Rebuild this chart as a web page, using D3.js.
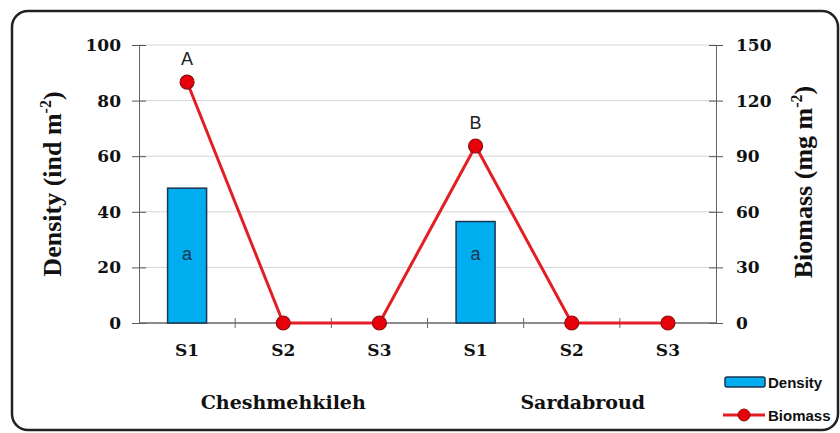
<!DOCTYPE html>
<html><head><meta charset="utf-8">
<script src="https://cdn.jsdelivr.net/npm/d3@7"></script>
<style>body{margin:0;background:#fff}svg{display:block}</style>
</head><body>
<svg id="c" width="840" height="433"></svg>
<script>
const categories = ["S1","S2","S3","S1","S2","S3"];
const groups = ["Cheshmehkileh","Sardabroud"];
const density = [48.5,null,null,36.5,null,null];
const densityLetters = ["a",null,null,"a",null,null];
const biomass = [130,0,0,95.5,0,0];
const biomassLetters = ["A",null,null,"B",null,null];
const leftTicks = [0,20,40,60,80,100];
const rightTicks = [0,30,60,90,120,150];

const svg = d3.select("#c");
const L = 139, R = 716, T = 45, B = 323;
const idx = categories.map((d,i)=>i);
const x = d3.scaleBand().domain(idx).range([L,R]);
const yL = d3.scaleLinear().domain([0,100]).range([B,T]);
const yR = d3.scaleLinear().domain([0,150]).range([B,T]);

// frame
svg.append("rect").attr("x",12).attr("y",11).attr("width",826).attr("height",419)
  .attr("rx",16).attr("fill","none").attr("stroke","#222").attr("stroke-width",2.5);

// grid
svg.append("g").selectAll("line").data(leftTicks.slice(1)).join("line")
  .attr("x1",L).attr("x2",R).attr("y1",d=>yL(d)).attr("y2",d=>yL(d))
  .attr("stroke","#d4d4d4").attr("stroke-width",1);

const serif = "'DejaVu Serif',serif";
const tserif = "'Liberation Serif','Times New Roman',serif";
// left axis
const la = svg.append("g").attr("transform",`translate(${L},0)`)
  .call(d3.axisLeft(yL).tickValues(leftTicks).tickSize(7).tickSizeOuter(0).tickPadding(11));
la.selectAll(".tick line").attr("x2",-7).attr("x1",7).attr("stroke","#555");
la.select(".domain").attr("stroke","#666");
la.selectAll("text").attr("font-family",serif).attr("font-weight","bold").attr("font-size",17).attr("fill","#111");

// right axis
const ra = svg.append("g").attr("transform",`translate(${R},0)`)
  .call(d3.axisRight(yR).tickValues(rightTicks).tickSize(7).tickSizeOuter(0).tickPadding(13));
ra.selectAll(".tick line").attr("x1",-7).attr("stroke","#555");
ra.select(".domain").attr("stroke","#666");
ra.selectAll("text").attr("font-family",serif).attr("font-weight","bold").attr("font-size",17).attr("fill","#111");

// x axis
svg.append("line").attr("x1",L).attr("x2",R).attr("y1",B).attr("y2",B).attr("stroke","#666").attr("stroke-width",1.5);
svg.append("g").selectAll("line").data(idx.slice(1)).join("line")
  .attr("x1",d=>x(d)).attr("x2",d=>x(d)).attr("y1",B-5).attr("y2",B+5).attr("stroke","#666");
svg.append("g").selectAll("text").data(categories).join("text")
  .attr("x",(d,i)=>x(i)+x.bandwidth()/2).attr("y",B+33).attr("text-anchor","middle")
  .attr("font-family",serif).attr("font-weight","bold").attr("font-size",17).attr("fill","#111").text(d=>d);
svg.append("g").selectAll("text").data(groups).join("text")
  .attr("x",(d,i)=>x(i*3+1)+x.bandwidth()/2).attr("dx",(d,i)=>i*11).attr("y",409).attr("text-anchor","middle")
  .attr("font-family",serif).attr("font-weight","bold").attr("font-size",19).attr("fill","#111").text(d=>d);

// bars
const bw = 39;
svg.append("g").selectAll("rect").data(density.map((v,i)=>({v,i})).filter(d=>d.v!=null)).join("rect")
  .attr("x",d=>x(d.i)+x.bandwidth()/2-bw/2).attr("width",bw)
  .attr("y",d=>yL(d.v)).attr("height",d=>B-yL(d.v))
  .attr("fill","#00aeef").attr("stroke","#1b3550").attr("stroke-width",1.5);
svg.append("g").selectAll("text").data(densityLetters.map((v,i)=>({v,i})).filter(d=>d.v)).join("text")
  .attr("x",d=>x(d.i)+x.bandwidth()/2).attr("y",yL(25)+6).attr("text-anchor","middle")
  .attr("font-family","'Liberation Sans',Arial,sans-serif").attr("font-size",18).attr("fill","#1b3550").text(d=>d.v);

// line
const line = d3.line().x((d,i)=>x(i)+x.bandwidth()/2).y(d=>yR(d));
svg.append("path").datum(biomass).attr("d",line).attr("fill","none").attr("stroke","#e31e24").attr("stroke-width",3);
svg.append("g").selectAll("circle").data(biomass).join("circle")
  .attr("cx",(d,i)=>x(i)+x.bandwidth()/2).attr("cy",d=>yR(d)).attr("r",7)
  .attr("fill","#e8000b").attr("stroke","#8a1010").attr("stroke-width",1.2);
svg.append("g").selectAll("text").data(biomassLetters.map((v,i)=>({v,i})).filter(d=>d.v)).join("text")
  .attr("x",d=>x(d.i)+x.bandwidth()/2).attr("y",d=>yR(biomass[d.i])-17).attr("text-anchor","middle")
  .attr("font-family","'Liberation Sans',Arial,sans-serif").attr("font-size",18).attr("fill","#222").text(d=>d.v);

// axis titles
svg.append("text").attr("transform","translate(61,184) rotate(-90)").attr("text-anchor","middle")
  .attr("font-family",tserif).attr("font-weight","bold").attr("font-size",26).attr("fill","#111")
  .html('Density (ind m<tspan dy="-10" font-size="16">-2</tspan><tspan dy="10">)</tspan>');
svg.append("text").attr("transform","translate(812,182) rotate(-90)").attr("text-anchor","middle")
  .attr("font-family",tserif).attr("font-weight","bold").attr("font-size",26).attr("fill","#111")
  .html('Biomass (mg m<tspan dy="-10" font-size="16">-2</tspan><tspan dy="10">)</tspan>');

// legend
const sans = "'Liberation Sans',Arial,sans-serif";
svg.append("rect").attr("x",725).attr("y",377).attr("width",40).attr("height",10).attr("rx",2)
  .attr("fill","#00aeef").attr("stroke","#1b3550").attr("stroke-width",1.5);
svg.append("text").attr("x",768).attr("y",388).attr("font-family",sans).attr("font-weight","bold").attr("font-size",15).attr("fill","#111").text("Density");
svg.append("line").attr("x1",723).attr("x2",765).attr("y1",415).attr("y2",415).attr("stroke","#e31e24").attr("stroke-width",3);
svg.append("circle").attr("cx",744).attr("cy",415).attr("r",6).attr("fill","#e8000b").attr("stroke","#8a1010");
svg.append("text").attr("x",768).attr("y",421).attr("font-family",sans).attr("font-weight","bold").attr("font-size",15).attr("fill","#111").text("Biomass");
</script>
</body></html>
